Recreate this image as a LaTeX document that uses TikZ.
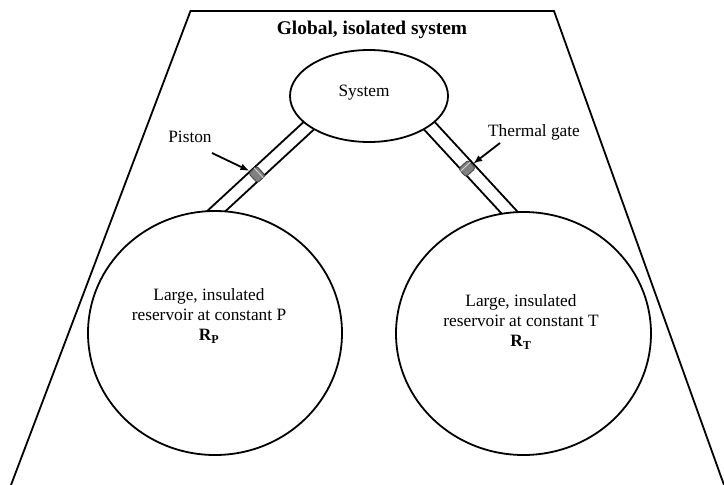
\documentclass[tikz,border=0pt]{standalone}
\usepackage{fontspec}
\setmainfont{Liberation Serif}
\usetikzlibrary{shapes.geometric,arrows.meta,calc,backgrounds}
\begin{document}
\begin{tikzpicture}[x=1pt,y=-1pt,
  line width=1.8pt,
  body/.style={font=\fontsize{17.3}{20}\selectfont,inner sep=0pt},
  titlefont/.style={font=\bfseries\fontsize{19.4}{22}\selectfont,inner sep=0pt},
  vessel/.style={draw,ellipse,fill=white,inner sep=0pt,line width=1.8pt},
  pistonbox/.style={draw=black!75,line width=0.8pt,fill=black!50,rounded corners=2.5pt,
     minimum width=11pt,minimum height=13pt,inner sep=0pt},
  highlight/.style={draw=black!15,line width=0.8pt},
  pointer/.style={-{Latex[length=9pt,width=7pt]},line width=1.8pt,shorten >=1pt},
  tubeline/.style={line width=1.8pt}]
\useasboundingbox (0,0) rectangle (724,485);

% global isolated system boundary
\coordinate (gBL) at (11,485);
\coordinate (gTL) at (190.5,11);
\coordinate (gTR) at (554,11);
\coordinate (gBR) at (724,485);
\draw (gBL) -- (gTL) -- (gTR) -- (gBR);
\node[titlefont] (title) at (372,30) {Global, isolated system};

% vessels
\node[vessel,minimum width=158pt,minimum height=92pt] (sys) at (369,96) {};
\node[body] (systext) at (364,93) {System};
\node[vessel,minimum width=254pt,minimum height=244pt] (resP) at (215,333) {};
\node[vessel,minimum width=255pt,minimum height=243pt] (resT) at (523.5,333.5) {};
\node[body,align=center] (pText) at (209,316)
  {Large, insulated\\reservoir at constant P\\\textbf{R\textsubscript{P}}};
\node[body,align=center] (tText) at (521,322)
  {Large, insulated\\reservoir at constant T\\\textbf{R\textsubscript{T}}};

% tubes (behind the vessels)
\coordinate (tLa) at (201.7,224.6);
\coordinate (tLb) at (323,112.6);
\coordinate (tRa) at (521,225);
\coordinate (tRb) at (416.7,112);
\begin{scope}[on background layer]
  \draw[tubeline] ($(tLa)!6.25pt!90:(tLb)$) -- ($(tLb)!6.25pt!-90:(tLa)$);
  \draw[tubeline] ($(tLa)!6.25pt!-90:(tLb)$) -- ($(tLb)!6.25pt!90:(tLa)$);
  \draw[tubeline] ($(tRa)!6.5pt!90:(tRb)$) -- ($(tRb)!6.5pt!-90:(tRa)$);
  \draw[tubeline] ($(tRa)!6.5pt!-90:(tRb)$) -- ($(tRb)!6.5pt!90:(tRa)$);
\end{scope}

% piston and thermal gate
\node[pistonbox,rotate=42.7] (pL) at (257,174.5) {};
\draw[highlight] ($(pL.north east)!0.3!(pL.north west)$) -- ($(pL.south east)!0.3!(pL.south west)$);
\node[pistonbox,rotate=132.7] (pR) at (467,168.5) {};
\draw[highlight] ($(pR.north east)!0.3!(pR.north west)$) -- ($(pR.south east)!0.3!(pR.south west)$);

% labels and pointers
\node[body] (pistonlbl) at (190,137) {Piston};
\node[body] (gatelbl) at (534,132) {Thermal gate};
\coordinate (aL) at (212,153);
\coordinate (aR) at (500,143);
\draw[pointer] (aL) -- (pL);
\draw[pointer] (aR) -- (pR);
\end{tikzpicture}
\end{document}
